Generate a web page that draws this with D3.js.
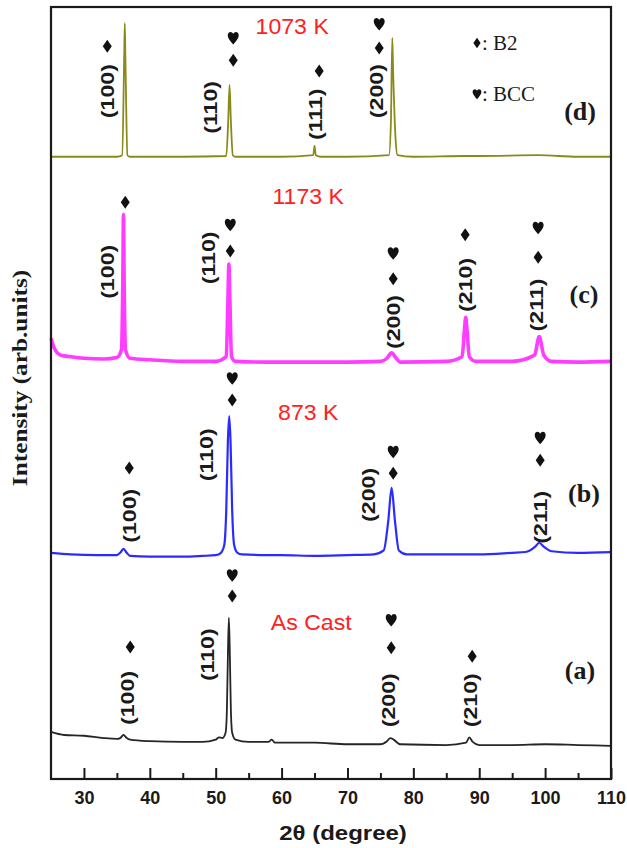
<!DOCTYPE html>
<html>
<head>
<meta charset="utf-8">
<script src="https://cdn.jsdelivr.net/npm/d3@7"></script>
<style>
  body { margin: 0; background: #fff; }
  svg text { font-family: "Liberation Sans", Arial, sans-serif; }
</style>
</head>
<body>
<div id="chart"></div>
<script>
// XRD patterns, [2theta, intensity (arb. units, stacked)]
var asCast = [[25,61],[27,57],[30,56],[33,53],[35,52],[35.5,53],[36,57],[36.5,53],[37,51],[40,49],[45,48],[48,48],[50,51],[50.5,54],[51,53],[51.5,60],[51.7,90],[51.85,160],[52,209],[52.15,160],[52.3,90],[52.5,60],[53,51],[55,48],[58,48],[58.5,51],[59,47],[65,47],[70,45],[75,45],[76,49],[76.5,53],[77,51],[78,45],[85,44],[88,47],[88.5,54],[89,48],[90,44],[95,44],[100,45],[105,44],[110,43]];
var k873 = [[25,293],[28,291],[32,290],[35,290],[35.5,293],[36,298],[36.5,293],[37,289],[40,288],[45,288],[48,289],[50,290],[50.8,293],[51.3,303],[51.6,348],[51.85,438],[52.05,470],[52.25,438],[52.5,348],[52.8,303],[53.3,293],[54,291],[58,290],[60,290],[65,289],[70,290],[74,291],[75.5,296],[76.2,335],[76.7,377],[77.2,335],[77.8,296],[79,291],[85,291],[90,291],[95,293],[97,294],[98.5,301],[99.1,306],[99.8,301],[101,295],[105,293],[110,294]];
var k1173 = [[25,571],[25.5,558],[26.5,549],[28,547],[30,545],[33,544],[35,546],[35.7,556],[35.9,646],[36,731],[36.1,646],[36.3,556],[37,545],[40,543],[45,541],[50,541],[51.6,547],[51.85,620],[52,667],[52.15,620],[52.4,547],[53,541],[58,540],[65,540],[70,540],[75,541],[76,545],[76.7,552],[77.4,545],[78,540],[85,541],[87.4,547],[87.75,581],[87.95,598],[88.15,581],[88.5,547],[89.5,541],[95,541],[98.4,549],[99.1,573],[99.8,549],[101,541],[105,540],[110,541]];
var k1073 = [[25,806],[30,806],[35,806],[35.8,808],[36.1,931],[36.2,979],[36.3,931],[36.6,808],[37,806],[45,806],[51.6,807],[51.9,853],[52.1,899],[52.3,853],[52.6,808],[53,806],[60,806],[64.8,808],[65,820],[65.2,808],[66,806],[70,806],[76.3,808],[76.6,853],[76.8,960],[76.95,910],[77.1,870],[77.3,829],[77.6,808],[80,806],[88,807],[90,807],[99,808],[105,806],[110,806]];

var seriesNames = ["As Cast", "873 K", "1173 K", "1073 K"];
var seriesData = [asCast, k873, k1173, k1073];
var seriesColors = ["#262626", "#2b2bff", "#ff3cff", "#8a8a1c"];
var seriesWidths = [1.8, 2.2, 3.6, 1.8];

// temperature labels [2theta, intensity]
var tempLabels = [[64.5,203],[64.04,474],[64.04,754],[61.61,974]];
// panel letters
var panelNames = ["(a)", "(b)", "(c)", "(d)"];
var panelPos = [[105.3,141],[105.9,370],[105.9,627],[105.3,864]];

// Miller index labels: [text, 2theta, intensity]
var hklLabels = [
  ["(100)",36.58,105],["(110)",48.72,161],["(200)",76.18,102],["(210)",88.63,102],
  ["(100)",36.88,341],["(110)",48.57,420],["(200)",73.15,368],["(211)",99.25,339],
  ["(100)",33.54,657],["(110)",48.87,675],["(200)",77.0,592],["(210)",87.87,640],["(211)",98.64,614],
  ["(100)",33.54,891],["(110)",49.17,870],["(111)",65.1,861],["(200)",74.36,891]
];
// phase markers: [type, 2theta, intensity]  B2 = diamond, BCC = heart
var phaseMarks = [
  ["B2",37.03,171],["BCC",52.51,264],["B2",52.51,237],["BCC",76.64,206],["B2",76.64,170],["B2",88.93,159],
  ["B2",36.88,403],["BCC",52.51,519],["B2",52.51,491],["BCC",76.94,424],["B2",76.94,396],["BCC",99.25,442],["B2",99.25,413],
  ["B2",36.27,747],["BCC",52.21,718],["B2",52.21,684],["BCC",76.94,681],["B2",76.94,648],["B2",87.87,705],["BCC",98.94,714],["B2",98.94,676],
  ["B2",33.54,949],["BCC",52.66,960],["B2",52.66,931],["B2",65.71,917],["BCC",74.82,978],["B2",74.82,947]
];

var majorTicks = [30, 40, 50, 60, 70, 80, 90, 100, 110];
var minorTicks = [35, 45, 55, 65, 75, 85, 95, 105];

var W = 627, H = 848;
var margin = {top: 7, right: 16, bottom: 69, left: 51};
var w = W - margin.left - margin.right;
var h = H - margin.top - margin.bottom;

var svg = d3.select("#chart").append("svg")
  .attr("width", W)
  .attr("height", H);

var g = svg.append("g")
  .attr("transform", "translate(" + margin.left + "," + margin.top + ")");

var xScale = d3.scaleLinear().domain([25, 110]).range([0, w]);
var yScale = d3.scaleLinear().domain([0, 1000]).range([h, 0]);

var diamond = "M0,-6.5L4.5,0L0,6.5L-4.5,0Z";
var heart = "M0,6.5C-2.5,3.5 -5.5,0.5 -5.5,-2.5C-5.5,-5 -4,-6 -2.7,-6C-1.3,-6 -0.3,-5 0,-3.8C0.3,-5 1.3,-6 2.7,-6C4,-6 5.5,-5 5.5,-2.5C5.5,0.5 2.5,3.5 0,6.5Z";

//draws the patterns
var line = d3.line()
  .x(function(d) { return xScale(d[0]); })
  .y(function(d) { return yScale(d[1]); })
  .curve(d3.curveMonotoneX);

g.selectAll(".pattern")
  .data(seriesData)
  .enter()
  .append("path")
  .attr("class", "pattern")
  .attr("d", line)
  .attr("fill", "none")
  .attr("stroke", function(d, i) { return seriesColors[i]; })
  .attr("stroke-width", function(d, i) { return seriesWidths[i]; })
  .attr("stroke-linejoin", "round");

//x axis, ticks point inward
var xAxis = d3.axisBottom(xScale)
  .tickValues(majorTicks)
  .tickSizeInner(-11)
  .tickSizeOuter(0)
  .tickPadding(12)
  .tickFormat(d3.format("d"));

var gx = g.append("g")
  .attr("transform", "translate(0," + h + ")")
  .call(xAxis);
gx.select(".domain").remove();
gx.selectAll("line").attr("stroke", "#1a1a1a").attr("stroke-width", 2);
gx.selectAll("text")
  .attr("fill", "#1a1a1a")
  .style("font-size", "18px")
  .style("font-weight", "bold");

var gxMinor = g.append("g")
  .attr("transform", "translate(0," + h + ")")
  .call(d3.axisBottom(xScale).tickValues(minorTicks).tickSizeInner(-6).tickSizeOuter(0).tickFormat(""));
gxMinor.select(".domain").remove();
gxMinor.selectAll("line").attr("stroke", "#1a1a1a").attr("stroke-width", 2);

//frame
g.append("rect")
  .attr("width", w)
  .attr("height", h)
  .attr("fill", "none")
  .attr("stroke", "#1a1a1a")
  .attr("stroke-width", 2.2);

//axis titles
svg.append("text")
  .attr("transform", "translate(343,833) scale(1.2,1)")
  .attr("text-anchor", "middle")
  .attr("dominant-baseline", "central")
  .style("font-size", "20px")
  .style("font-weight", "bold")
  .attr("fill", "#1a1a1a")
  .text("2\u03b8 (degree)");

svg.append("text")
  .attr("transform", "translate(20,378) rotate(-90) scale(1.15,1)")
  .attr("text-anchor", "middle")
  .attr("dominant-baseline", "central")
  .style("font-family", "'Liberation Serif', 'Times New Roman', serif")
  .style("font-size", "22px")
  .style("font-weight", "bold")
  .attr("fill", "#1a1a1a")
  .text("Intensity (arb.units)");

//temperature labels
g.selectAll(".temp")
  .data(tempLabels)
  .enter()
  .append("text")
  .attr("class", "temp")
  .attr("transform", function(d) {
    return "translate(" + xScale(d[0]) + "," + yScale(d[1]) + ") scale(1.05,1)";
  })
  .attr("text-anchor", "middle")
  .attr("dominant-baseline", "central")
  .style("font-size", "22px")
  .attr("fill", "#ff2020")
  .text(function(d, i) { return seriesNames[i]; });

//panel letters
g.selectAll(".panel")
  .data(panelPos)
  .enter()
  .append("text")
  .attr("class", "panel")
  .attr("x", function(d) { return xScale(d[0]); })
  .attr("y", function(d) { return yScale(d[1]); })
  .attr("text-anchor", "middle")
  .attr("dominant-baseline", "central")
  .style("font-family", "'Liberation Serif', 'Times New Roman', serif")
  .style("font-size", "26px")
  .style("font-weight", "bold")
  .attr("fill", "#1a1a1a")
  .text(function(d, i) { return panelNames[i]; });

//miller indices
g.selectAll(".hkl")
  .data(hklLabels)
  .enter()
  .append("text")
  .attr("class", "hkl")
  .attr("transform", function(d) {
    return "translate(" + xScale(d[1]) + "," + yScale(d[2]) + ") rotate(-90) scale(1.22,1)";
  })
  .attr("text-anchor", "middle")
  .attr("dominant-baseline", "central")
  .style("font-size", "19px")
  .style("font-weight", "bold")
  .attr("fill", "#1a1a1a")
  .text(function(d) { return d[0]; });

//phase markers
g.selectAll(".mark")
  .data(phaseMarks)
  .enter()
  .append("path")
  .attr("class", "mark")
  .attr("transform", function(d) {
    return "translate(" + xScale(d[1]) + "," + yScale(d[2]) + ")";
  })
  .attr("d", function(d) { return d[0] === "B2" ? diamond : heart; })
  .attr("fill", "#111");

//legend
var legend = svg.append("g").attr("transform", "translate(474,0)");
[["B2", 43], ["BCC", 94]].forEach(function(l) {
  legend.append("path")
    .attr("transform", "translate(3," + l[1] + ") scale(0.8)")
    .attr("d", l[0] === "B2" ? diamond : heart)
    .attr("fill", "#111");
  legend.append("text")
    .attr("x", 8)
    .attr("y", l[1])
    .attr("dominant-baseline", "central")
    .style("font-family", "'Liberation Serif', 'Times New Roman', serif")
    .style("font-size", "21px")
    .attr("fill", "#1a1a1a")
    .text(": " + l[0]);
});
</script>
</body>
</html>
